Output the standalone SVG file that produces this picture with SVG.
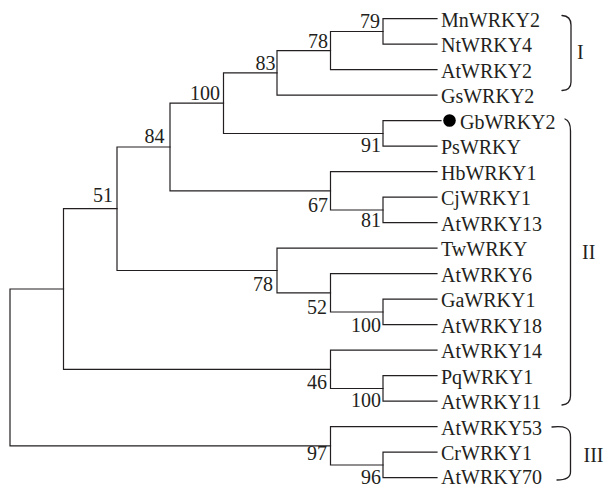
<svg xmlns="http://www.w3.org/2000/svg" width="605" height="484" viewBox="0 0 605 484">
  <style>
    .br { fill: none; stroke: #231f20; stroke-width: 1.2; stroke-linecap: square; }
    .bk { fill: none; stroke: #231f20; stroke-width: 1.3; stroke-linecap: round; }
    text { font-family: "Liberation Serif", "Times New Roman", serif; font-size: 20px; fill: #231f20; }
    .bs { text-anchor: end; }
  </style>
  <rect width="605" height="484" fill="#ffffff"/>

  <!-- tree branches: each path is one internal node (child stem, vertical, child stem) -->
  <g id="connectors">
    <path class="br" d="M437,18.7 H383 V44.2 H437"/>
    <path class="br" d="M383,31.5 H330.5 V69.7 H437"/>
    <path class="br" d="M330.5,50.6 H277 V95.2 H437"/>
    <path class="br" d="M441,120.7 H383 V146.2 H437"/>
    <path class="br" d="M277,72.9 H223.5 V133.5 H383"/>
    <path class="br" d="M437,197.2 H383 V222.7 H437"/>
    <path class="br" d="M437,171.7 H330.5 V210 H383"/>
    <path class="br" d="M223.5,103.2 H170 V190.8 H330.5"/>
    <path class="br" d="M437,299.2 H383 V324.7 H437"/>
    <path class="br" d="M437,273.7 H330.5 V312 H383"/>
    <path class="br" d="M437,248.2 H277 V292.8 H330.5"/>
    <path class="br" d="M170,147 H117 V270.5 H277"/>
    <path class="br" d="M437,375.7 H383 V401.2 H437"/>
    <path class="br" d="M437,350.2 H330.5 V388.5 H383"/>
    <path class="br" d="M117,208.7 H63.5 V369.3 H330.5"/>
    <path class="br" d="M437,452.2 H383 V477.7 H437"/>
    <path class="br" d="M437,426.7 H330.5 V465 H383"/>
    <path class="br" d="M63.5,289 H10 V445.8 H330.5"/>
  </g>

  <!-- bootstrap support values -->
  <g id="support">
    <text class="bs" x="380" y="28">79</text>
    <text class="bs" x="328" y="48">78</text>
    <text class="bs" x="275.5" y="70">83</text>
    <text class="bs" x="220" y="99.5">100</text>
    <text class="bs" x="164.5" y="143">84</text>
    <text class="bs" x="113" y="202">51</text>
    <text class="bs" x="381" y="151.5">91</text>
    <text class="bs" x="328" y="212">67</text>
    <text class="bs" x="381" y="227">81</text>
    <text class="bs" x="273" y="290.5">78</text>
    <text class="bs" x="327" y="314">52</text>
    <text class="bs" x="381" y="331.5">100</text>
    <text class="bs" x="327" y="388.5">46</text>
    <text class="bs" x="381" y="406.5">100</text>
    <text class="bs" x="327" y="460">97</text>
    <text class="bs" x="381" y="483.5">96</text>
  </g>

  <!-- leaves -->
  <g id="MnWRKY2"><text x="441" y="26.5">MnWRKY2</text></g>
  <g id="NtWRKY4"><text x="441" y="52">NtWRKY4</text></g>
  <g id="AtWRKY2"><text x="441" y="77.5">AtWRKY2</text></g>
  <g id="GsWRKY2"><text x="441" y="103">GsWRKY2</text></g>
  <g id="GbWRKY2"><circle cx="449.5" cy="120.5" r="6.3" fill="#000000"/><text x="460" y="128.5">GbWRKY2</text></g>
  <g id="PsWRKY"><text x="441" y="154">PsWRKY</text></g>
  <g id="HbWRKY1"><text x="441" y="179.5">HbWRKY1</text></g>
  <g id="CjWRKY1"><text x="441" y="205">CjWRKY1</text></g>
  <g id="AtWRKY13"><text x="441" y="230.5">AtWRKY13</text></g>
  <g id="TwWRKY"><text x="441" y="256">TwWRKY</text></g>
  <g id="AtWRKY6"><text x="441" y="281.5">AtWRKY6</text></g>
  <g id="GaWRKY1"><text x="441" y="307">GaWRKY1</text></g>
  <g id="AtWRKY18"><text x="441" y="332.5">AtWRKY18</text></g>
  <g id="AtWRKY14"><text x="441" y="358">AtWRKY14</text></g>
  <g id="PqWRKY1"><text x="441" y="383.5">PqWRKY1</text></g>
  <g id="AtWRKY11"><text x="441" y="409">AtWRKY11</text></g>
  <g id="AtWRKY53"><text x="441" y="434.5">AtWRKY53</text></g>
  <g id="CrWRKY1"><text x="441" y="460">CrWRKY1</text></g>
  <g id="AtWRKY70"><text x="441" y="483.5">AtWRKY70</text></g>

  <!-- group brackets -->
  <g id="group-I">
    <path class="bk" d="M562,15.5 Q571,16 571,25 V82 Q571,90 562,90.5"/>
    <text x="577" y="58.5">I</text>
  </g>
  <g id="group-II">
    <path class="bk" d="M565,119 Q570.5,121 570.5,131 V396 Q570.5,404 562,405"/>
    <text x="582" y="258.5">II</text>
  </g>
  <g id="group-III">
    <path class="bk" d="M552,427 Q562,426 566,428 Q570.5,430 570.5,437 V472 Q570.5,480 557,480"/>
    <text x="583.5" y="462">III</text>
  </g>
</svg>
